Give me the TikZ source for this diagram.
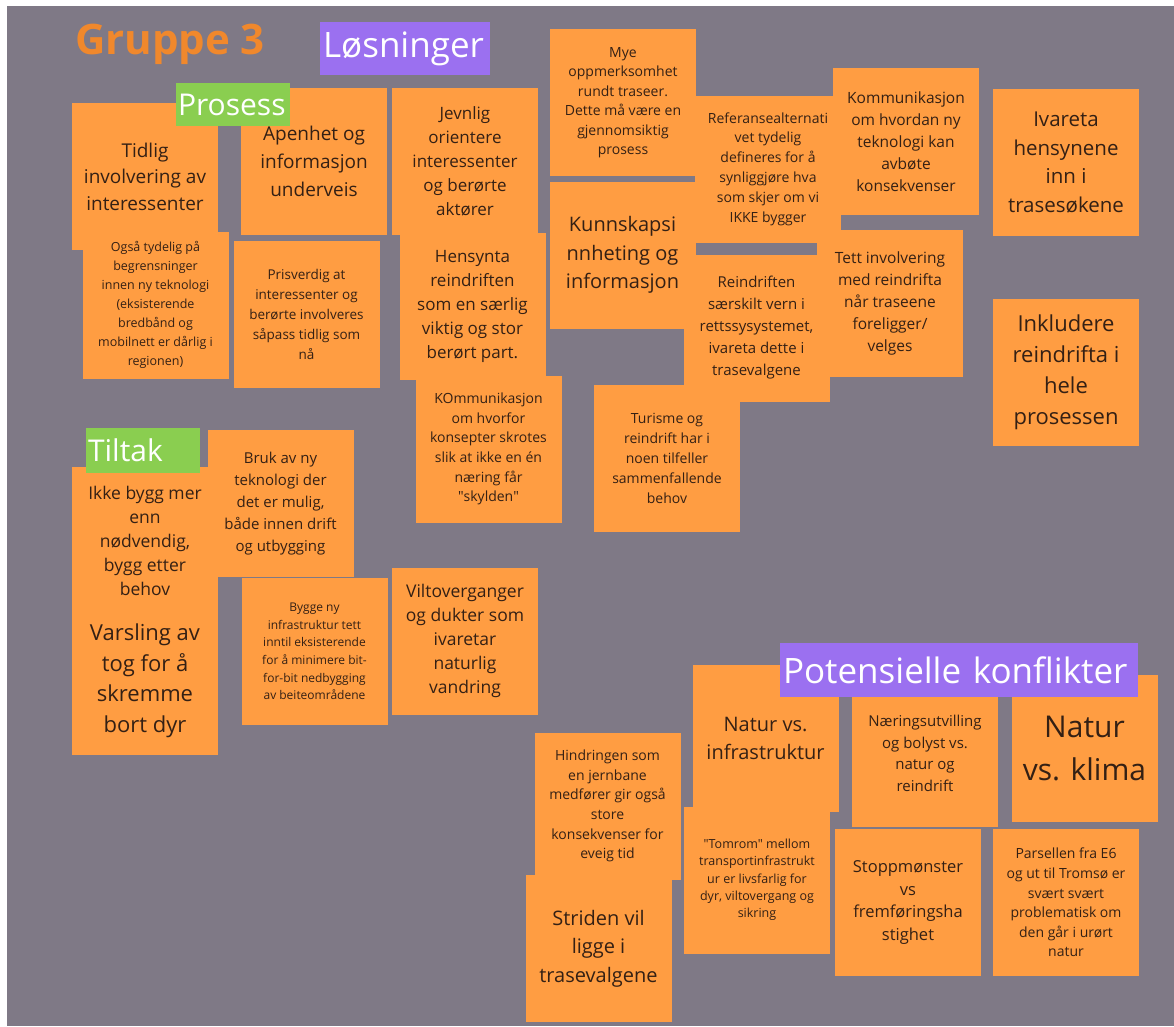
\documentclass[tikz,border=0pt]{standalone}
\usepackage{fontspec}
\setmainfont{Open Sans}

\definecolor{BoardGrey}{RGB}{127, 121, 134}
\definecolor{NoteOrange}{RGB}{255, 157, 66}
\definecolor{NoteInk}{RGB}{52, 32, 20}
\definecolor{HeadPurple}{RGB}{155, 112, 240}
\definecolor{TagGreen}{RGB}{138, 206, 80}
\definecolor{TitleOrange}{RGB}{240, 136, 44}
\newcommand{\fsz}[2]{\fontsize{#1}{#2}\selectfont}

\begin{document}
\begin{tikzpicture}[x=1pt, y=-1pt,
                note/.style={fill=NoteOrange, text=NoteInk, minimum width=146pt, minimum height=147pt, inner sep=0pt, align=center},
                heading/.style={fill=HeadPurple, text=white, inner xsep=3pt, inner ysep=0pt, align=left, font=\fsz{35}{42}},
                tag/.style={fill=TagGreen, text=white, inner xsep=2pt, inner ysep=0pt, align=left, font=\fsz{30}{36}}
            ]
                % Board
                \fill[white] (0,0) rectangle (1174,1026);
                \fill[BoardGrey] (7,6) rectangle (1174,1026);

                % Title and main heading
                \node[font=\bfseries\fsz{42}{50}, text=TitleOrange] (gruppe) at (170,44) {Gruppe 3};
                \node[heading, text width=164pt, minimum height=53pt] (losninger) at (405,48.5) {Løsninger};

                % Prosess notes
                \node[note, font=\fsz{19}{26.5}] (tidlig) at (145,176.5) {Tidlig\\involvering av\\interessenter};
                \node[note, font=\fsz{19}{28}] (apenhet) at (314,161.5) {Apenhet og\\informasjon\\underveis};
                \node[note, font=\fsz{17}{24}] (jevnlig) at (465,161.5) {Jevnlig\\orientere\\interessenter\\og berørte\\aktører};
                \node[note, font=\fsz{14}{19.5}] (mye) at (623,102.5) {Mye\\oppmerksomhet\\rundt traseer.\\Dette må være en\\gjennomsiktig\\prosess};
                \node[note, font=\fsz{14}{19.8}] (referanse) at (768,169) {Referansealternati\\vet tydelig\\defineres for å\\synliggjøre hva\\som skjer om vi\\IKKE bygger};
                \node[note, font=\fsz{15.5}{22}] (kommunikasjon) at (906,141.5) {Kommunikasjon\\om hvordan ny\\teknologi kan\\avbøte\\konsekvenser};
                \node[note, font=\fsz{20.5}{28.5}] (ivareta) at (1066,162.5) {Ivareta\\hensynene\\inn i\\trasesøkene};
                \node[note, font=\fsz{12.5}{19}] (ogsaa) at (155.5,305) {Også tydelig på\\begrensninger\\innen ny teknologi\\(eksisterende\\bredbånd og\\mobilnett er dårlig i\\regionen)};
                \node[note, font=\fsz{13.5}{20}] (prisverdig) at (306.5,314) {Prisverdig at\\interessenter og\\berørte involveres\\såpass tidlig som\\nå};
                \node[note, font=\fsz{17}{24}] (hensynta) at (472.5,306.5) {Hensynta\\reindriften\\som en særlig\\viktig og stor\\berørt part.};
                \node[note, font=\fsz{15.5}{22}] (tett) at (890,303.5) {Tett involvering\\med reindrifta\\når traseene\\foreligger/\\velges};
                \node[note, font=\fsz{14}{19.8}] (turisme) at (667,458.5) {Turisme og\\reindrift har i\\noen tilfeller\\sammenfallende\\behov};
                \node[note, font=\fsz{15}{22}] (reindriften) at (756.5,328) {Reindriften\\særskilt vern i\\rettssysystemet,\\ivareta dette i\\trasevalgene};
                \node[note, font=\fsz{20}{28.5}] (kunnskap) at (622.5,255) {Kunnskapsi\\nnheting og\\informasjon};
                \node[note, font=\fsz{22}{31}] (inkludere) at (1066,372.5) {Inkludere\\reindrifta i\\hele\\prosessen};
                \node[note, font=\fsz{14}{19.6}] (hvorfor) at (488.5,449) {KOmmunikasjon\\om hvorfor\\konsepter skrotes\\slik at ikke en én\\næring får\\\textquotedbl skylden\textquotedbl};
                \node[tag, text width=110pt, minimum height=43pt] (prosess) at (233,104.5) {Prosess};

                % Tiltak notes
                \node[note, font=\fsz{17.5}{24}] (ikkebygg) at (145,540.5) {Ikke bygg mer\\enn\\nødvendig,\\bygg etter\\behov};
                \node[note, font=\fsz{15}{22}] (nyteknologi) at (280.5,503.5) {Bruk av ny\\teknologi der\\det er mulig,\\både innen drift\\og utbygging};
                \node[note, font=\fsz{22}{30.5}] (varsling) at (145,681) {Varsling av\\tog for å\\skremme\\bort dyr};
                \node[note, font=\fsz{12}{17.6}] (byggeny) at (314.5,651.5) {Bygge ny\\infrastruktur tett\\inntil eksisterende\\for å minimere bit-\\for-bit nedbygging\\av beiteområdene};
                \node[note, font=\fsz{17.5}{24}] (vilt) at (465,641) {Viltoverganger\\og dukter som\\ivaretar\\naturlig\\vandring};
                \node[tag, text width=110pt, minimum height=45pt] (tiltak) at (143,450.5) {Tiltak};

                % Potensielle konflikter notes
                \node[note, font=\fsz{14}{19.6}] (hindring) at (607.5,806) {Hindringen som\\en jernbane\\medfører gir også\\store\\konsekvenser for\\eveig tid};
                \node[note, font=\fsz{20}{28.5}] (striden) at (598.5,948.5) {Striden vil\\ligge i\\trasevalgene};
                \node[note, font=\fsz{20}{28}] (naturinfra) at (765.5,738.5) {Natur vs.\\infrastruktur};
                \node[note, font=\fsz{12.5}{17.3}] (tomrom) at (757,880) {\textquotedbl Tomrom\textquotedbl{} mellom\\transportinfrastrukt\\ur er livsfarlig for\\dyr, viltovergang og\\sikring};
                \node[note, font=\fsz{15}{21.7}] (naering) at (925,753.5) {Næringsutvilling\\og bolyst vs.\\natur og\\reindrift};
                \node[note, font=\fsz{30}{43}] (naturklima) at (1084.5,748.5) {Natur\\vs. klima};
                \node[note, font=\fsz{16.5}{22.5}] (stopp) at (908,902.5) {Stoppmønster\\vs\\fremføringsha\\stighet};
                \node[note, font=\fsz{14}{19.6}] (parsell) at (1066,902.5) {Parsellen fra E6\\og ut til Tromsø er\\svært svært\\problematisk om\\den går i urørt\\natur};
                \node[heading, text width=352pt, minimum height=54pt] (konflikter) at (959,670) {Potensielle konflikter};
            \end{tikzpicture}
\end{document}
